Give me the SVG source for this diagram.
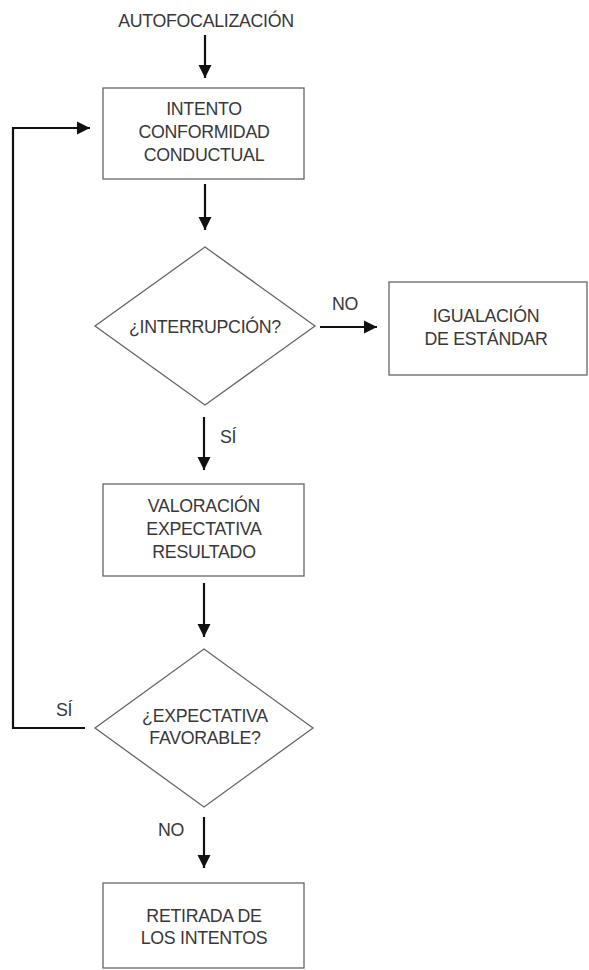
<svg xmlns="http://www.w3.org/2000/svg" width="589" height="970" viewBox="0 0 589 970">
<defs>
<style>
text{font-family:"Liberation Sans",Arial,sans-serif;font-size:17.8px;fill:#383838;text-anchor:middle;letter-spacing:-0.3px}
.box{fill:#fff;stroke:#666;stroke-width:1.3}
.conn line,.conn polyline{stroke:#111;stroke-width:2.2;fill:none}
</style>
<marker id="ah" viewBox="0 0 10 10" refX="10" refY="5" markerWidth="6" markerHeight="6" markerUnits="strokeWidth" orient="auto">
<path d="M0,0 L10,5 L0,10 z" fill="#111"/>
</marker>
</defs>
<rect width="589" height="970" fill="#fff"/>
<g id="start"><text x="206" y="27">AUTOFOCALIZACIÓN</text></g>
<g id="intento">
<rect class="box" x="103" y="88" width="201" height="91"/>
<text x="204" y="115">INTENTO</text>
<text x="204" y="138">CONFORMIDAD</text>
<text x="204" y="161">CONDUCTUAL</text>
</g>
<g id="interrupcion">
<polygon class="box" points="205,247 315,326 205,405 95,326"/>
<text x="205" y="333">¿INTERRUPCIÓN?</text>
</g>
<g id="igualacion">
<rect class="box" x="389" y="282" width="198" height="93"/>
<text x="486" y="322">IGUALACIÓN</text>
<text x="486" y="345">DE ESTÁNDAR</text>
</g>
<g id="valoracion">
<rect class="box" x="103" y="484" width="201" height="92"/>
<text x="204" y="512">VALORACIÓN</text>
<text x="204" y="535">EXPECTATIVA</text>
<text x="204" y="558">RESULTADO</text>
</g>
<g id="expectativa">
<polygon class="box" points="204,649 313,728 204,807 95,728"/>
<text x="205" y="722">¿EXPECTATIVA</text>
<text x="205" y="744">FAVORABLE?</text>
</g>
<g id="retirada">
<rect class="box" x="103" y="883" width="201" height="85"/>
<text x="204" y="922">RETIRADA DE</text>
<text x="204" y="944">LOS INTENTOS</text>
</g>
<g class="conn" id="connectors">
<line x1="205" y1="35" x2="205" y2="78" marker-end="url(#ah)"/>
<line x1="205" y1="184" x2="205" y2="230" marker-end="url(#ah)"/>
<line x1="320" y1="327" x2="377" y2="327" marker-end="url(#ah)"/>
<line x1="204" y1="417" x2="204" y2="470" marker-end="url(#ah)"/>
<line x1="204" y1="583" x2="204" y2="637" marker-end="url(#ah)"/>
<line x1="204" y1="817" x2="204" y2="868" marker-end="url(#ah)"/>
<polyline points="85,728 13,728 13,128 90,128" marker-end="url(#ah)"/>
</g>
<g id="labels">
<text x="345" y="310">NO</text>
<text x="228" y="443">SÍ</text>
<text x="64" y="716">SÍ</text>
<text x="171" y="836">NO</text>
</g>
</svg>
